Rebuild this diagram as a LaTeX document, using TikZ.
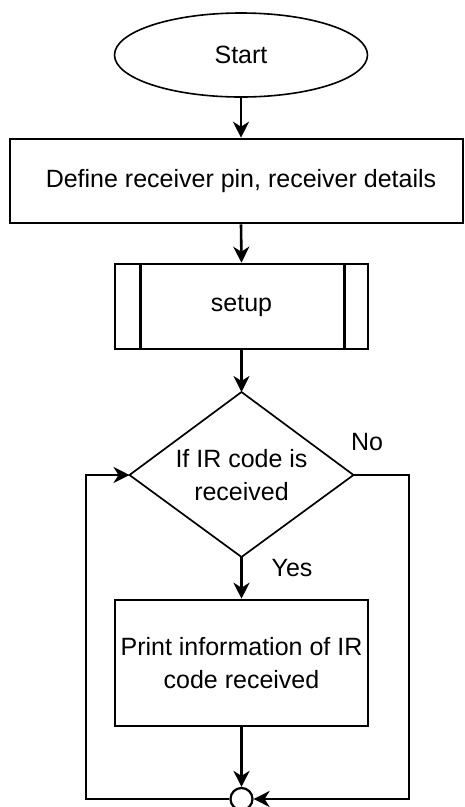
\documentclass[tikz,border=0pt]{standalone}
\usepackage{fontspec}
\setmainfont{Liberation Sans}
\usetikzlibrary{shapes.geometric,arrows.meta}

\tikzset{
  flowline/.style={line width=2.6pt, -{Stealth[length=16pt,width=16pt,inset=5pt]}},
  stepbox/.style={draw, line width=2.6pt, rectangle, inner sep=0pt, align=center},
  terminal/.style={draw, line width=1.6pt, ellipse, inner sep=0pt},
  decisionedge/.style={draw, line width=1.7pt, line join=miter},
  joint/.style={draw, line width=2.2pt, circle, fill=white, inner sep=0pt, minimum size=22pt},
  tag/.style={inner sep=0pt, align=center}
}

\begin{document}
\begin{tikzpicture}[x=1pt, y=-1pt, font=\fontsize{25}{32.5}\selectfont]
  \useasboundingbox (0,0) rectangle (465,807);

  % blocks of the flow
  \node[terminal, minimum width=253pt, minimum height=84pt] (start) at (241,55) {Start};
  \node[stepbox, minimum width=453pt, minimum height=84pt] (define) at (236.5,181)
    {\hspace*{9pt}Define receiver pin, receiver details};
  \node[stepbox, minimum width=253pt, minimum height=85pt] (setup) at (241.5,306.5) {setup};
  \draw[line width=2.6pt] ([xshift=27pt]setup.north west) -- ([xshift=27pt]setup.south west);
  \draw[line width=2.6pt] ([xshift=-25pt]setup.north east) -- ([xshift=-25pt]setup.south east);

  % decision diamond drawn from its four corners
  \coordinate (ctop) at (241.5,392);
  \coordinate (cright) at (353.5,475);
  \coordinate (cbot) at (241.5,557);
  \coordinate (cleft) at (129.5,475);
  \path[decisionedge] (ctop) -- (cright) -- (cbot) -- (cleft) -- cycle;
  \node[tag] (check) at (241.5,475) {If IR code is\\received};

  \node[stepbox, minimum width=253pt, minimum height=126pt] (print) at (241.5,663)
    {Print information of IR\\code received};
  \node[joint] (merge) at (241.5,799) {};

  % loop corners
  \coordinate (rtop) at (409,475);
  \coordinate (rbot) at (409,799);
  \coordinate (lbot) at (86,799);
  \coordinate (ltop) at (86,475);

  % connectors
  \draw[flowline] (start.south) -- (start.south |- define.north);
  \draw[flowline] (start.south |- define.south) -- (setup.north);
  \draw[flowline] (setup.south) -- (ctop);
  \draw[flowline] (cbot) -- (print.north);
  \draw[flowline] (print.south) -- (merge.north);
  \draw[flowline] (cright) -- (rtop) -- (rbot) -- (merge.east);
  \draw[flowline] (merge.west) -- (lbot) -- (ltop) -- (cleft);

  % branch labels
  \node[tag] (nolabel) at (367,442) {No};
  \node[tag] (yeslabel) at (292,568) {Yes};
\end{tikzpicture}
\end{document}
